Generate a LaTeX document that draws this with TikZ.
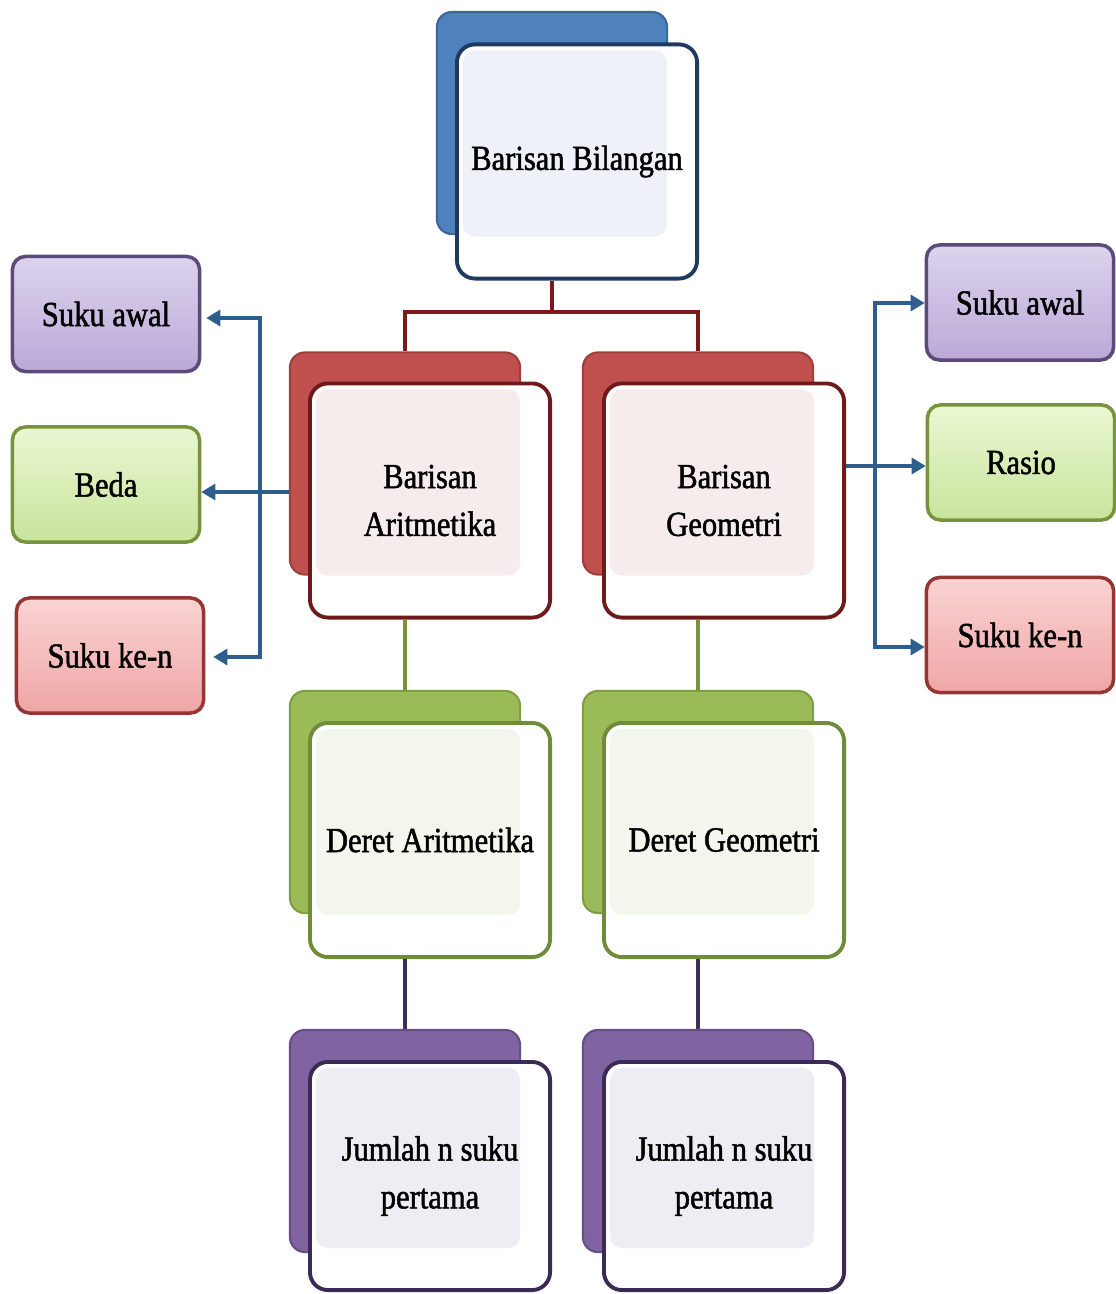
\documentclass[tikz,border=0pt]{standalone}
\usepackage{fontspec}
\setmainfont{Liberation Serif}[FakeStretch=0.87,FakeBold=1.4]
\usetikzlibrary{arrows.meta}
\definecolor{blueback}{HTML}{4F81BD}
\definecolor{bluebackd}{HTML}{3C6699}
\definecolor{bluefr}{HTML}{1F3A60}
\definecolor{bluetint}{HTML}{EEF1F8}
\definecolor{redback}{HTML}{C0504D}
\definecolor{redbackd}{HTML}{A03E3B}
\definecolor{redfr}{HTML}{6E1A1A}
\definecolor{redtint}{HTML}{F7ECEC}
\definecolor{greenback}{HTML}{9BBB59}
\definecolor{greenbackd}{HTML}{809E46}
\definecolor{greenfr}{HTML}{6F8C3A}
\definecolor{greentint}{HTML}{F3F6EC}
\definecolor{purpback}{HTML}{8064A2}
\definecolor{purpbackd}{HTML}{654F85}
\definecolor{purpfr}{HTML}{3A2A55}
\definecolor{purptint}{HTML}{EFEDF4}
\definecolor{lavtop}{HTML}{DCD3EC}
\definecolor{lavbot}{HTML}{BBA9D8}
\definecolor{lavd}{HTML}{5C4A7A}
\definecolor{limetop}{HTML}{EAF7D2}
\definecolor{limebot}{HTML}{C8E49C}
\definecolor{limed}{HTML}{77933C}
\definecolor{pinktop}{HTML}{FAD3D3}
\definecolor{pinkbot}{HTML}{EFA6A6}
\definecolor{pinkd}{HTML}{943634}
\definecolor{arrowblue}{HTML}{2E5E8E}
\definecolor{toplinecol}{HTML}{7B1A1A}
\definecolor{olivecol}{HTML}{77933C}
\definecolor{darkpurp}{HTML}{3F2F56}
\tikzset{
  lbl/.style={font={\fontsize{10}{13.6}\selectfont}, align=center, text=black},
  backbox/.style={rectangle, rounded corners=0.15cm, minimum width=2.3cm, minimum height=2.22cm, inner sep=0pt, line width=0.6pt},
  frontbox/.style={rectangle, rounded corners=0.18cm, minimum width=2.4cm, minimum height=2.34cm, fill=white, line width=1.1pt, inner sep=0pt, lbl},
  tinted/.style={path picture={\fill[#1, rounded corners=0.12cm] ([shift={(6,6)}]path picture bounding box.north west) rectangle ([shift={(-30,-42)}]path picture bounding box.south east);}},
  smallbox/.style={rectangle, rounded corners=0.13cm, minimum width=1.87cm, minimum height=1.15cm, inner sep=0pt, line width=1pt, lbl},
  arr/.style={draw=arrowblue, line width=0.9pt, -{Triangle[length=0.14cm,width=0.16cm]}},
  arrboth/.style={draw=arrowblue, line width=0.9pt, {Triangle[length=0.14cm,width=0.16cm]}-{Triangle[length=0.14cm,width=0.16cm]}},
  conn/.style={line width=1.1pt}
}
\begin{document}
\begin{tikzpicture}[x=0.01cm, y=-0.01cm]
\fill[white] (0,0) rectangle (1115,1294);
\useasboundingbox (0,0) rectangle (1115,1294);

% top
\node[backbox, fill=blueback, draw=bluebackd] (bkT) at (552,123) {};
\node[frontbox, draw=bluefr, tinted=bluetint] (frT) at (577,161.5) {Barisan Bilangan};

% red
\node[backbox, fill=redback, draw=redbackd] (bkA) at (405,463.5) {};
\node[frontbox, draw=redfr, tinted=redtint] (frA) at (430,500.5) {Barisan\\Aritmetika};
\node[backbox, fill=redback, draw=redbackd] (bkB) at (698,463.5) {};
\node[frontbox, draw=redfr, tinted=redtint] (frB) at (724,500.5) {Barisan\\Geometri};

% green
\node[backbox, fill=greenback, draw=greenbackd] (bkC) at (405,802) {};
\node[frontbox, draw=greenfr, tinted=greentint] (frC) at (430,840) {Deret Aritmetika};
\node[backbox, fill=greenback, draw=greenbackd] (bkD) at (698,802) {};
\node[frontbox, draw=greenfr, tinted=greentint] (frD) at (724,840) {Deret Geometri};

% purple
\node[backbox, fill=purpback, draw=purpbackd] (bkE) at (405,1141) {};
\node[frontbox, draw=purpfr, tinted=purptint, minimum height=2.28cm] (frE) at (430,1176) {Jumlah n suku\\pertama};
\node[backbox, fill=purpback, draw=purpbackd] (bkF) at (698,1141) {};
\node[frontbox, draw=purpfr, tinted=purptint, minimum height=2.28cm] (frF) at (724,1176) {Jumlah n suku\\pertama};

% small boxes left
\node[smallbox, top color=lavtop, bottom color=lavbot, draw=lavd] (saL) at (106,314) {Suku awal};
\node[smallbox, top color=limetop, bottom color=limebot, draw=limed] (beda) at (106,484.5) {Beda};
\node[smallbox, top color=pinktop, bottom color=pinkbot, draw=pinkd] (skL) at (110,655.5) {Suku ke-n};

% small boxes right
\node[smallbox, top color=lavtop, bottom color=lavbot, draw=lavd] (saR) at (1020,302.5) {Suku awal};
\node[smallbox, top color=limetop, bottom color=limebot, draw=limed] (rasio) at (1021,462.5) {Rasio};
\node[smallbox, top color=pinktop, bottom color=pinkbot, draw=pinkd] (skR) at (1020,635) {Suku ke-n};

% tree connectors
\coordinate (jn) at (552,312);
\draw[conn, draw=toplinecol] (jn |- frT.south) -- (jn);
\draw[conn, draw=toplinecol] (bkA.north) |- (jn) -| (bkB.north);
\draw[conn, draw=olivecol] (bkC.north |- frA.south) -- (bkC.north);
\draw[conn, draw=olivecol] (bkD.north |- frB.south) -- (bkD.north);
\draw[conn, draw=darkpurp] (bkE.north |- frC.south) -- (bkE.north);
\draw[conn, draw=darkpurp] (bkF.north |- frD.south) -- (bkF.north);

% left arrows
\coordinate (lv1) at (260,318);
\coordinate (lv2) at (260,657);
\draw[arrboth, shorten <=0.08cm, shorten >=0.05cm] (lv2 -| skL.east) -- (lv2) -- (lv1) -- (lv1 -| saL.east);
\coordinate (bd) at (290,492);
\draw[arr] (bkA.west |- bd) -- (bd -| beda.east);

% right arrows
\coordinate (rv1) at (875,303);
\coordinate (rv2) at (875,647);
\draw[arrboth] (rv1 -| saR.west) -- (rv1) -- (rv2) -- (rv2 -| skR.west);
\coordinate (rs) at (850,466);
\draw[arr] (frB.east |- rs) -- (rs -| rasio.west);
\end{tikzpicture}
\end{document}
